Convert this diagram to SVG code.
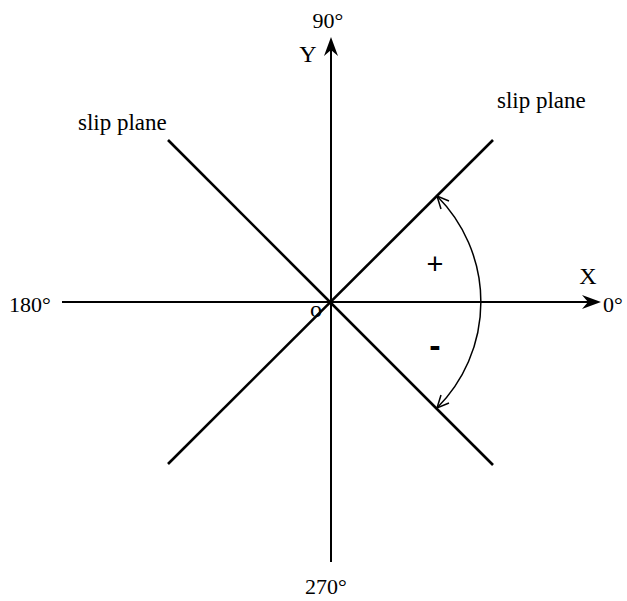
<svg xmlns="http://www.w3.org/2000/svg" width="627" height="601" viewBox="0 0 627 601">
<style>
.ax{stroke:#000;stroke-width:2;fill:none}
.sp{stroke:#000;stroke-width:2.6;fill:none}
.arc{stroke:#000;stroke-width:1.5;fill:none}
.head{fill:#000;stroke:none}
.t{font-family:"Liberation Serif","Times New Roman",serif;font-size:22px;fill:#000}
.ts{font-family:"Liberation Serif","Times New Roman",serif;font-size:23px;fill:#000}
.tl{font-family:"Liberation Serif","Times New Roman",serif;font-size:24px;fill:#000}
.tp{font-family:"Liberation Sans",Arial,sans-serif;font-size:29px;fill:#000}
.tm{font-family:"Liberation Sans",Arial,sans-serif;font-size:34px;font-weight:bold;fill:#000}
</style>
<rect width="627" height="601" fill="#fff"/>
<g id="axes">
<line class="ax" x1="62" y1="302" x2="592" y2="302"/>
<line class="ax" x1="331" y1="46" x2="331" y2="562"/>
<path class="head" d="M331 37 L338 56 L331 50 L324 56 Z"/>
<path class="head" d="M601 302 L582 295 L588 302 L582 309 Z"/>
</g>
<g id="slip-planes">
<line class="sp" x1="168" y1="140" x2="493" y2="465"/>
<line class="sp" x1="168" y1="464" x2="493" y2="140"/>
</g>
<g id="connectors">
<path class="arc" d="M437 196 A150 150 0 0 1 437 408"/>
<path class="arc" d="M449 201 L437 196 L441 209"/>
<path class="arc" d="M441 395 L437 408 L449 403"/>
</g>
<g id="labels">
<text class="t" x="328" y="28" text-anchor="middle">90°</text>
<text class="tl" x="308" y="62" text-anchor="middle">Y</text>
<text class="tl" x="588" y="284" text-anchor="middle">X</text>
<text class="t" x="603" y="312">0°</text>
<text class="t" x="9" y="312">180°</text>
<text class="t" x="326" y="594" text-anchor="middle">270°</text>
<text class="tl" x="316" y="317" text-anchor="middle">o</text>
<text class="tp" x="435" y="274" text-anchor="middle">+</text>
<text class="tm" x="435" y="357" text-anchor="middle">-</text>
<text class="ts" x="78" y="130">slip plane</text>
<text class="ts" x="497" y="108">slip plane</text>
</g>
</svg>
